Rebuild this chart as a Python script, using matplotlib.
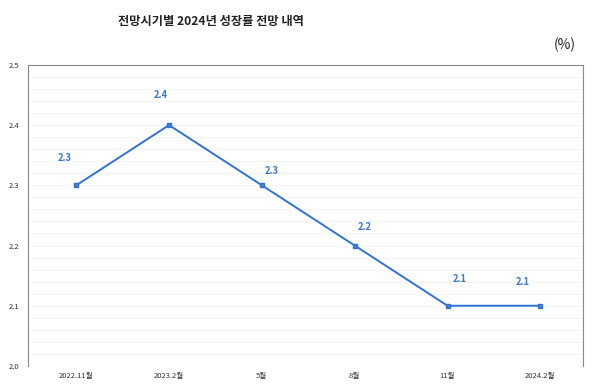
import matplotlib
matplotlib.use("Agg")
import matplotlib.pyplot as plt
import numpy as np

plt.rcParams['font.family'] = ['Noto Sans CJK KR', 'DejaVu Sans']

categories = ['2022.11월', '2023.2월', '5월', '8월', '11월', '2024.2월']
values = [2.3, 2.4, 2.3, 2.2, 2.1, 2.1]
title = '전망시기별 2024년 성장률 전망 내역'
unit = '(%)'

# label offsets (points) - styling
label_offsets = [(-8, 20), (-6, 22), (7, 10), (7, 13), (9, 19), (-13, 17)]

fig = plt.figure(figsize=(5.93, 3.84), dpi=100)
ax = fig.add_axes([0.0472, 0.047, 0.936, 0.784])

x = np.arange(len(categories))
line_color = '#2F72D4'
ax.plot(x, values, color=line_color, lw=1.4, marker='s', ms=3,
        markerfacecolor='#4A7EC8', markeredgecolor=line_color, zorder=3)

for xi, v, off in zip(x, values, label_offsets):
    ax.annotate(f'{v:.1f}', (xi, v), xytext=off, textcoords='offset points',
                ha='center', va='center', fontsize=6.8, fontweight='bold',
                color='#3A78C8')

ax.set_xlim(-0.52, 5.46)
ax.set_ylim(2.0, 2.5)
ax.set_yticks([2.0, 2.1, 2.2, 2.3, 2.4, 2.5])
ax.set_yticklabels(['2.0', '2.1', '2.2', '2.3', '2.4', '2.5'])
ax.set_yticks(np.arange(2.0, 2.5001, 0.02), minor=True)
ax.yaxis.grid(True, which='both', color='#F2F2F2', lw=0.6)
ax.set_axisbelow(True)
ax.set_xticks(x)
ax.set_xticklabels(categories)
ax.tick_params(axis='both', which='both', length=0, labelsize=5.5, colors='#333333')
ax.tick_params(axis='y', pad=6)
ax.tick_params(axis='x', pad=4)

for s in ['left', 'right', 'top']:
    ax.spines[s].set_color('#888888')
    ax.spines[s].set_linewidth(0.8)
ax.spines['bottom'].set_visible(False)

fig.text(0.355, 0.945, title, ha='center', va='center', fontsize=8.8, fontweight='bold', color='#222222')
fig.text(0.952, 0.883, unit, ha='center', va='center', fontsize=10, color='#222222')

fig.savefig('out.png', dpi=100)
